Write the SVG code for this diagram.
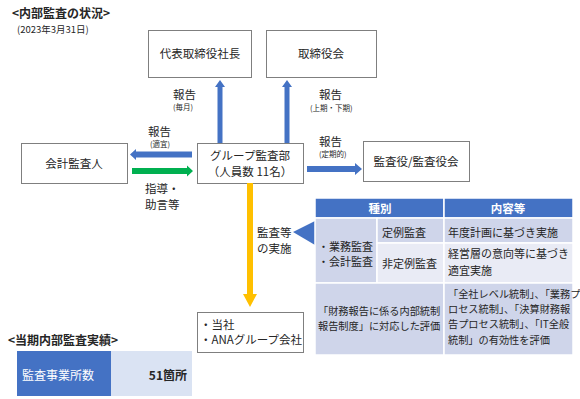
<svg xmlns="http://www.w3.org/2000/svg" width="580" height="399" viewBox="0 0 580 399">
<style>
text{font-family:"Noto Sans CJK JP","Noto Sans",sans-serif;fill:#262626;}
.box{fill:#fff;stroke:#7f7f7f;stroke-width:1;}
.bt{font-size:11.5px;text-anchor:middle;}
.lb{font-size:11.5px;}
.sm{font-size:7.5px;}
.ttl{font-size:12px;font-weight:bold;}
.th{fill:#4472c4;stroke:#fff;stroke-width:1.5;}
.c1{fill:#cfd5ea;stroke:#fff;stroke-width:1.5;}
.c2{fill:#e9ebf5;stroke:#fff;stroke-width:1.5;}
.tt{font-size:11px;}
.tn{font-size:10.2px;}
.hw{font-size:11.5px;font-weight:bold;fill:#fff;text-anchor:middle;}
.blue{fill:#4472c4;}
.green{fill:#00b050;}
.yellow{fill:#ffc000;}
</style>
<text class="ttl" x="12" y="18">&lt;内部監査の状況&gt;</text>
<text x="17" y="33" style="font-size:9.5px">(2023年3月31日)</text>

<g id="ceo"><rect class="box" x="148.5" y="30.5" width="103" height="47"/><text class="bt" x="200" y="58">代表取締役社長</text></g>
<g id="board"><rect class="box" x="266.5" y="30.5" width="110" height="47"/><text class="bt" x="321" y="58">取締役会</text></g>
<g id="auditor"><rect class="box" x="21.5" y="143.5" width="106" height="40"/><text class="bt" x="74" y="168">会計監査人</text></g>
<g id="group"><rect class="box" x="197.5" y="143.5" width="106" height="40"/><text class="bt" x="250" y="160">グループ監査部</text><text class="bt" x="250" y="176">（人員数  11名）</text></g>
<g id="kansayaku"><rect class="box" x="363.5" y="141.5" width="106" height="40"/><text class="bt" x="416" y="166">監査役/監査役会</text></g>
<g id="targets"><rect class="box" x="197.5" y="312.5" width="106" height="40"/><text class="lb" x="200" y="329">・当社</text><text class="lb" x="200" y="344">・ANAグループ会社</text></g>

<g id="connectors">
<path class="blue" d="M217.5,143 V87 H215 L220,80 L225,87 H222.5 V143 Z"/>
<path class="blue" d="M284.5,143 V87 H282 L287,80 L292,87 H289.5 V143 Z"/>
<path class="blue" d="M192,151.5 H136 V149 L130,154.5 L136,160 V157.5 H192 Z"/>
<path class="green" d="M132,168 H187 V165.5 L193,171 L187,176.5 V174 H132 Z"/>
<path class="blue" d="M307,166 H355 V163 L362,169 L355,175 V172 H307 Z"/>
<path class="yellow" d="M247,183 V294 H243 L250,307 L257,294 H253 V183 Z"/>
<path class="blue" d="M293,232 L315,221 L315,245 Z"/>
</g>

<g id="labels">
<text class="lb" x="173" y="99">報告</text><text class="sm" x="173" y="110">(毎月)</text>
<text class="lb" x="319" y="99">報告</text><text class="sm" x="310" y="111">(上期・下期)</text>
<text class="lb" x="148" y="136">報告</text><text class="sm" x="150" y="147">(適宜)</text>
<text class="lb" x="319" y="146">報告</text><text class="sm" x="319" y="157">(定期的)</text>
<text class="lb" x="145" y="193">指導・</text><text class="lb" x="145" y="209">助言等</text>
<text class="lb" x="257" y="237">監査等</text><text class="lb" x="257" y="253">の実施</text>
</g>

<g id="table">
<rect class="th" x="315" y="198" width="129" height="20"/>
<rect class="th" x="444" y="198" width="129" height="20"/>
<rect class="c1" x="315" y="218" width="62" height="65"/>
<rect class="c1" x="377" y="218" width="67" height="25"/>
<rect class="c1" x="444" y="218" width="129" height="25"/>
<rect class="c2" x="377" y="243" width="67" height="40"/>
<rect class="c2" x="444" y="243" width="129" height="40"/>
<rect class="c1" x="315" y="283" width="129" height="72"/>
<rect class="c1" x="444" y="283" width="129" height="72"/>
<text class="hw" x="380" y="213">種別</text>
<text class="hw" x="508" y="213">内容等</text>
<text class="tt" x="318" y="251">・業務監査</text>
<text class="tt" x="318" y="266">・会計監査</text>
<text class="tt" x="382" y="237">定例監査</text>
<text class="tt" x="382" y="268">非定例監査</text>
<text class="tt" x="448" y="237">年度計画に基づき実施</text>
<text class="tt" x="448" y="258">経営層の意向等に基づき</text>
<text class="tt" x="448" y="275">適宜実施</text>
<text class="tn" x="318" y="315">「財務報告に係る内部統制</text>
<text class="tn" x="318" y="330">報告制度」に対応した評価</text>
<text class="tn" x="448" y="298">「全社レベル統制」、「業務プ</text>
<text class="tn" x="448" y="313">ロセス統制」、「決算財務報</text>
<text class="tn" x="448" y="328">告プロセス統制」、「IT全般</text>
<text class="tn" x="448" y="344">統制」の有効性を評価</text>
</g>

<text class="ttl" x="8" y="345">&lt;当期内部監査実績&gt;</text>
<g id="result">
<rect x="17" y="351" width="94" height="45" fill="#4472c4"/>
<rect x="111" y="351" width="81" height="45" fill="#dae3f3"/>
<text x="22" y="380" style="font-size:12px;fill:#fff">監査事業所数</text>
<text x="187" y="380" style="font-size:12px;font-weight:bold;text-anchor:end">51箇所</text>
</g>
</svg>
